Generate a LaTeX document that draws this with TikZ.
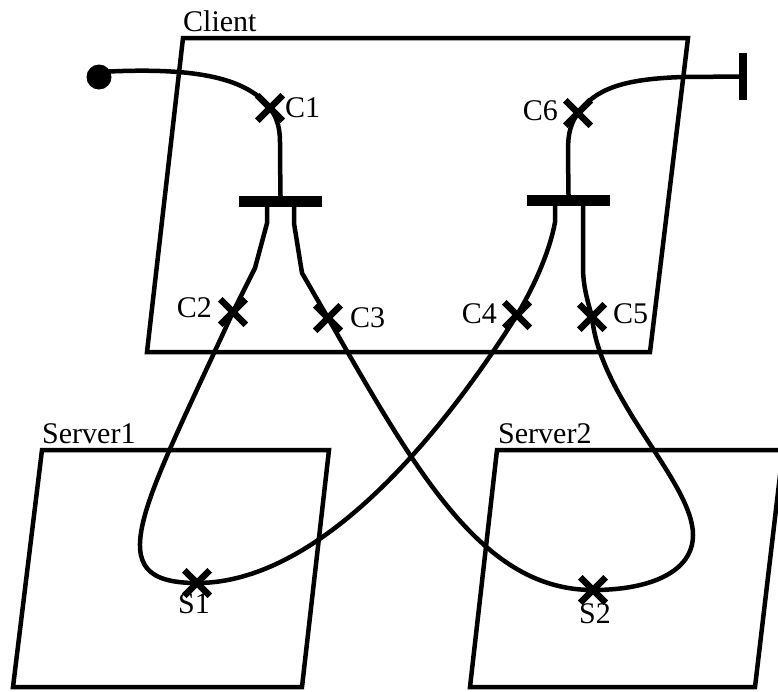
\documentclass[tikz,border=0pt]{standalone}
\usepackage{fontspec}
\setmainfont{Liberation Serif}
\usetikzlibrary{shapes.misc}
\begin{document}
\begin{tikzpicture}[x=1pt,y=-1pt,
  boxline/.style={line width=4.5pt, line join=miter},
  wire/.style={line width=4.5pt},
  xmark/.style={cross out, draw, line width=6.5pt, minimum size=19pt, inner sep=0pt},
  lbl/.style={inner sep=0pt, font=\fontsize{30}{35}\selectfont},
  splitbar/.style={rectangle, fill=black, minimum width=83pt, minimum height=11pt, inner sep=0pt}
]
\useasboundingbox (0,0) rectangle (778,691);

% hosts
\draw[boxline] (183,38) -- (688,38) -- (650,352) -- (147,352) -- cycle;
\draw[boxline] (42,450) -- (329,450) -- (302,687) -- (13,687) -- cycle;
\draw[boxline] (497,450) -- (783,450) -- (755,687) -- (470,687) -- cycle;

\node[lbl, anchor=base west] (tclient) at (183,31) {Client};
\node[lbl, anchor=base west] (tserver1) at (42,443) {Server1};
\node[lbl, anchor=base west] (tserver2) at (498,443) {Server2};

% terminals and split bars
\node[circle, fill, minimum size=25pt, inner sep=0pt] (dot) at (99,77) {};
\node[rectangle, fill, minimum width=8pt, minimum height=47pt, inner sep=0pt] (stop) at (743,76.5) {};
\node[splitbar] (bar1) at (280.5,201.5) {};
\node[splitbar] (bar2) at (568.5,200.5) {};

% points on the paths
\coordinate (pC1) at (270,108);
\coordinate (pC6) at (578,113);
\coordinate (pC2) at (233,312);
\coordinate (pC3) at (328,318);
\coordinate (pC4) at (517,315);
\coordinate (pC5) at (592,317);
\coordinate (pS1) at (197,583);
\coordinate (pS2) at (593,590);
\coordinate (r2) at (693,535);

% wires
\draw[wire] (dot.center) ++(0,-5) .. controls (190,67) and (245,76) .. (pC1)
  .. controls (281,124) and (280,135) .. (280,155) -- (bar1.north);
\draw[wire] (stop.center) -- (683,77) .. controls (620,79) and (595,90) .. (pC6)
  .. controls (568,127) and (568,140) .. (568,155) -- (bar2.north);

\draw[wire] ([xshift=-13.5pt]bar1.south) -- ++(0,16) -- (255,268) -- (pC2);
\draw[wire] ([xshift=13.5pt]bar1.south) -- ++(0,16) -- (302,273) -- (pC3);
\draw[wire] ([xshift=-13.5pt]bar2.south) -- ++(0,16) .. controls (550,250) and (535,285) .. (pC4);
\draw[wire] ([xshift=14.5pt]bar2.south) -- (583,267) .. controls (583,287) and (588,302) .. (pC5);

\draw[wire] (pC2) .. controls (141,512) and (97,583) .. (pS1)
  .. controls (317,583) and (437,442) .. (pC4);
\draw[wire] (pC3) .. controls (418,475) and (483,590) .. (pS2)
  .. controls (650,590) and (693,572) .. (r2)
  .. controls (693,482) and (600,400) .. (pC5);

% crossing marks
\foreach \p in {C1,C2,C3,C4,C5,C6,S1,S2}
  \node[xmark] (\p) at (p\p) {};

\node[lbl, anchor=base west] (tC1) at (285,117) {C1};
\node[lbl, anchor=base east] (tC6) at (558,120) {C6};
\node[lbl, anchor=base east] (tC2) at (212,317) {C2};
\node[lbl, anchor=base west] (tC3) at (350,327) {C3};
\node[lbl, anchor=base east] (tC4) at (497,323) {C4};
\node[lbl, anchor=base west] (tC5) at (613,323) {C5};
\node[lbl, anchor=base] (tS1) at (194,613) {S1};
\node[lbl, anchor=base] (tS2) at (595,623) {S2};
\end{tikzpicture}
\end{document}
